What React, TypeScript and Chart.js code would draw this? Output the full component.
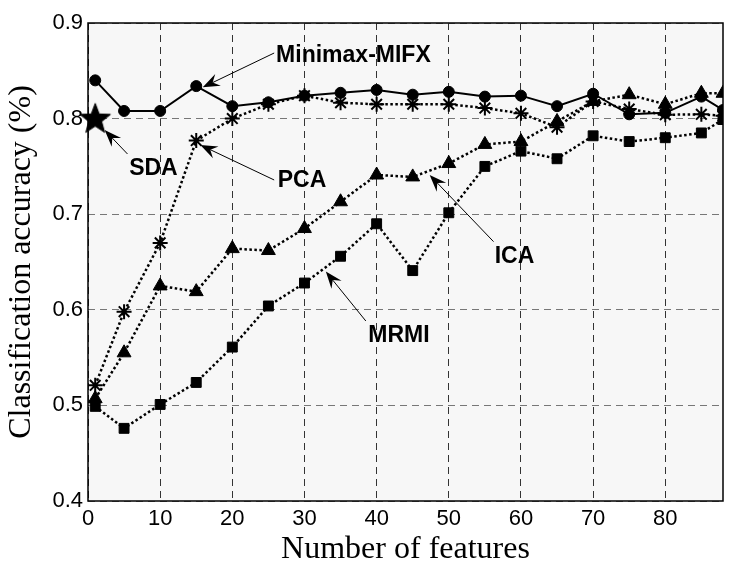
import React, { useEffect, useRef } from 'react';
import { Chart, registerables } from 'chart.js';

Chart.register(...registerables);

// ---------------- data ----------------
const features = [1, 5, 10, 15, 20, 25, 30, 35, 40, 45, 50, 55, 60, 65, 70, 75, 80, 85, 88];
const minimaxMIFX = [0.840, 0.808, 0.808, 0.834, 0.813, 0.817, 0.824, 0.827, 0.830, 0.825, 0.828, 0.823, 0.824, 0.813, 0.826, 0.8045, 0.806, 0.823, 0.809];
const pca = [0.521, 0.598, 0.670, 0.777, 0.800, 0.815, 0.824, 0.8166, 0.815, 0.815, 0.815, 0.811, 0.8055, 0.791, 0.818, 0.810, 0.804, 0.8045, 0.803];
const ica = [0.507, 0.555, 0.625, 0.619, 0.664, 0.662, 0.685, 0.713, 0.741, 0.739, 0.753, 0.773, 0.776, 0.797, 0.818, 0.825, 0.815, 0.8265, 0.8265];
const mrmi = [0.499, 0.476, 0.501, 0.524, 0.561, 0.604, 0.628, 0.656, 0.690, 0.641, 0.7015, 0.750, 0.766, 0.758, 0.782, 0.776, 0.780, 0.785, 0.799];
const sdaX = [1];
const sdaY = [0.8];

const xTicks = [0, 10, 20, 30, 40, 50, 60, 70, 80];
const yTicks = [0.4, 0.5, 0.6, 0.7, 0.8, 0.9];
const xTitle = 'Number of features';
const yTitle = 'Classification accuracy (%)';

// annotation texts and their anchors (data units)
const annotationLabels = ['Minimax-MIFX', 'SDA', 'PCA', 'ICA', 'MRMI'];
const labelX = [26.07, 5.7, 26.3, 56.36, 38.84];
const labelY = [0.8655, 0.7473, 0.735, 0.6556, 0.5731];
const arrowTailX = [25.8, 5.47, 25.8, 56.2, 38.5];
const arrowTailY = [0.8686, 0.763, 0.7358, 0.6713, 0.5883];
const arrowTipX = [15.9, 2.31, 15.57, 47.35, 32.96];
const arrowTipY = [0.8327, 0.788, 0.7724, 0.741, 0.64];

const toPoints = (xs: number[], ys: number[]) => xs.map((x, i) => ({ x, y: ys[i] }));

function makePentagram(R: number): HTMLCanvasElement {
  const size = Math.ceil(R * 2 + 4);
  const c = document.createElement('canvas');
  c.width = size;
  c.height = size;
  const ctx = c.getContext('2d')!;
  const cx = size / 2;
  const cy = size / 2 + R * 0.05;
  const r = R * 0.42;
  ctx.beginPath();
  for (let i = 0; i < 10; i++) {
    const ang = -Math.PI / 2 + (i * Math.PI) / 5;
    const rad = i % 2 === 0 ? R : r;
    const px = cx + rad * Math.cos(ang);
    const py = cy + rad * Math.sin(ang);
    if (i === 0) ctx.moveTo(px, py);
    else ctx.lineTo(px, py);
  }
  ctx.closePath();
  ctx.fillStyle = '#000';
  ctx.fill();
  ctx.lineWidth = 1;
  ctx.strokeStyle = '#000';
  ctx.stroke();
  return c;
}

const plotBgPlugin = {
  id: 'plotBg',
  beforeDraw(chart: any) {
    const { ctx, chartArea: a } = chart;
    ctx.save();
    ctx.fillStyle = '#f7f7f7';
    ctx.fillRect(a.left, a.top, a.right - a.left, a.bottom - a.top);
    ctx.restore();
  },
  beforeDatasetsDraw(chart: any) {
    const { ctx, chartArea: a } = chart;
    ctx.save();
    ctx.strokeStyle = '#000';
    ctx.lineWidth = 1.5;
    ctx.setLineDash([]);
    ctx.strokeRect(a.left, a.top, a.right - a.left, a.bottom - a.top);
    ctx.restore();
  },
};

const annotationPlugin = {
  id: 'annot',
  afterDatasetsDraw(chart: any) {
    const { ctx } = chart;
    const xs = chart.scales.x;
    const ys = chart.scales.y;
    ctx.save();
    ctx.fillStyle = '#000';
    ctx.strokeStyle = '#000';
    ctx.setLineDash([]);
    for (let i = 0; i < annotationLabels.length; i++) {
      const tx = xs.getPixelForValue(arrowTailX[i]);
      const ty = ys.getPixelForValue(arrowTailY[i]);
      const hx = xs.getPixelForValue(arrowTipX[i]);
      const hy = ys.getPixelForValue(arrowTipY[i]);
      const ang = Math.atan2(hy - ty, hx - tx);
      const L = 17;
      const W = 6.5;
      const N = 11;
      const cos = Math.cos(ang);
      const sin = Math.sin(ang);
      // shaft
      ctx.lineWidth = 1;
      ctx.beginPath();
      ctx.moveTo(tx, ty);
      ctx.lineTo(hx - cos * N, hy - sin * N);
      ctx.stroke();
      // head
      ctx.beginPath();
      ctx.moveTo(hx, hy);
      ctx.lineTo(hx - cos * L - sin * W, hy - sin * L + cos * W);
      ctx.lineTo(hx - cos * N, hy - sin * N);
      ctx.lineTo(hx - cos * L + sin * W, hy - sin * L - cos * W);
      ctx.closePath();
      ctx.fill();
      // text
      ctx.font = 'bold 23px "Liberation Sans", Arial, sans-serif';
      ctx.textAlign = 'left';
      ctx.textBaseline = 'middle';
      ctx.fillText(annotationLabels[i], xs.getPixelForValue(labelX[i]), ys.getPixelForValue(labelY[i]));
    }
    ctx.restore();
  },
};

export default function App() {
  const ref = useRef<HTMLCanvasElement | null>(null);

  useEffect(() => {
    if (!ref.current) return;
    const star = makePentagram(16);
    const dotted = [2.5, 2.5];
    const chart = new Chart(ref.current, {
      type: 'line',
      data: {
        datasets: [
          {
            label: 'SDA',
            data: toPoints(sdaX, sdaY),
            showLine: false,
            clip: false,
            pointStyle: star as any,
            pointRadius: 16,
            borderColor: '#000',
            backgroundColor: '#000',
          },
          {
            label: 'Minimax-MIFX',
            data: toPoints(features, minimaxMIFX),
            borderColor: '#000',
            borderWidth: 2,
            pointStyle: 'circle',
            pointRadius: 5.5,
            pointBackgroundColor: '#000',
            pointBorderColor: '#000',
            pointBorderWidth: 1,
          },
          {
            label: 'PCA',
            data: toPoints(features, pca),
            borderColor: '#000',
            borderWidth: 2.5,
            borderDash: dotted,
            pointStyle: 'star',
            pointRadius: 7.5,
            pointBorderColor: '#000',
            pointBackgroundColor: '#000',
            pointBorderWidth: 2,
          },
          {
            label: 'ICA',
            data: toPoints(features, ica),
            borderColor: '#000',
            borderWidth: 2.5,
            borderDash: dotted,
            pointStyle: 'triangle',
            pointRadius: 8,
            pointBackgroundColor: '#000',
            pointBorderColor: '#000',
            pointBorderWidth: 1,
          },
          {
            label: 'MRMI',
            data: toPoints(features, mrmi),
            borderColor: '#000',
            borderWidth: 2.5,
            borderDash: dotted,
            pointStyle: 'rect',
            pointRadius: 7,
            pointBackgroundColor: '#000',
            pointBorderColor: '#000',
            pointBorderWidth: 1,
          },
        ],
      },
      options: {
        responsive: false,
        animation: false,
        devicePixelRatio: 1,
        layout: { padding: { top: 23, right: 4, left: 0, bottom: 0 } },
        plugins: { legend: { display: false }, tooltip: { enabled: false } },
        elements: { line: { tension: 0, fill: false } },
        scales: {
          x: {
            type: 'linear',
            min: 0,
            max: 88,
            afterBuildTicks: (scale: any) => {
              scale.ticks = xTicks.map((v) => ({ value: v }));
            },
            afterFit: (scale: any) => {
              scale.height = 65;
            },
            ticks: {
              padding: 5,
              color: '#000',
              font: { family: '"Liberation Sans", Arial, sans-serif', size: 22 },
              maxRotation: 0,
              callback: (v: any) => String(v),
            },
            grid: { color: '#333', lineWidth: 1, drawTicks: false },
            border: { display: false, dash: [7, 5] },
            title: {
              display: true,
              text: xTitle,
              color: '#000',
              font: { family: '"Liberation Serif", "Times New Roman", serif', size: 32, lineHeight: 1 },
              padding: { top: 0, bottom: 0 },
            },
          },
          y: {
            type: 'linear',
            min: 0.4,
            max: 0.9,
            afterBuildTicks: (scale: any) => {
              scale.ticks = yTicks.map((v) => ({ value: v }));
            },
            afterFit: (scale: any) => {
              scale.width = 88;
            },
            ticks: {
              padding: 5,
              color: '#000',
              font: { family: '"Liberation Sans", Arial, sans-serif', size: 22 },
              callback: (v: any) => Number(v).toFixed(1),
            },
            grid: { color: '#777', lineWidth: 1, drawTicks: false },
            border: { display: false, dash: [7, 5] },
            title: {
              display: true,
              text: yTitle,
              color: '#000',
              font: { family: '"Liberation Serif", "Times New Roman", serif', size: 32, lineHeight: 1 },
              padding: { top: 6, bottom: 0 },
            },
          },
        },
      },
      plugins: [plotBgPlugin, annotationPlugin],
    } as any);
    return () => chart.destroy();
  }, []);

  return (
    <div style={{ position: 'absolute', left: 0, top: 0, width: 740, height: 566 }}>
      <canvas ref={ref} width={740} height={566} style={{ display: 'block' }} />
    </div>
  );
}
